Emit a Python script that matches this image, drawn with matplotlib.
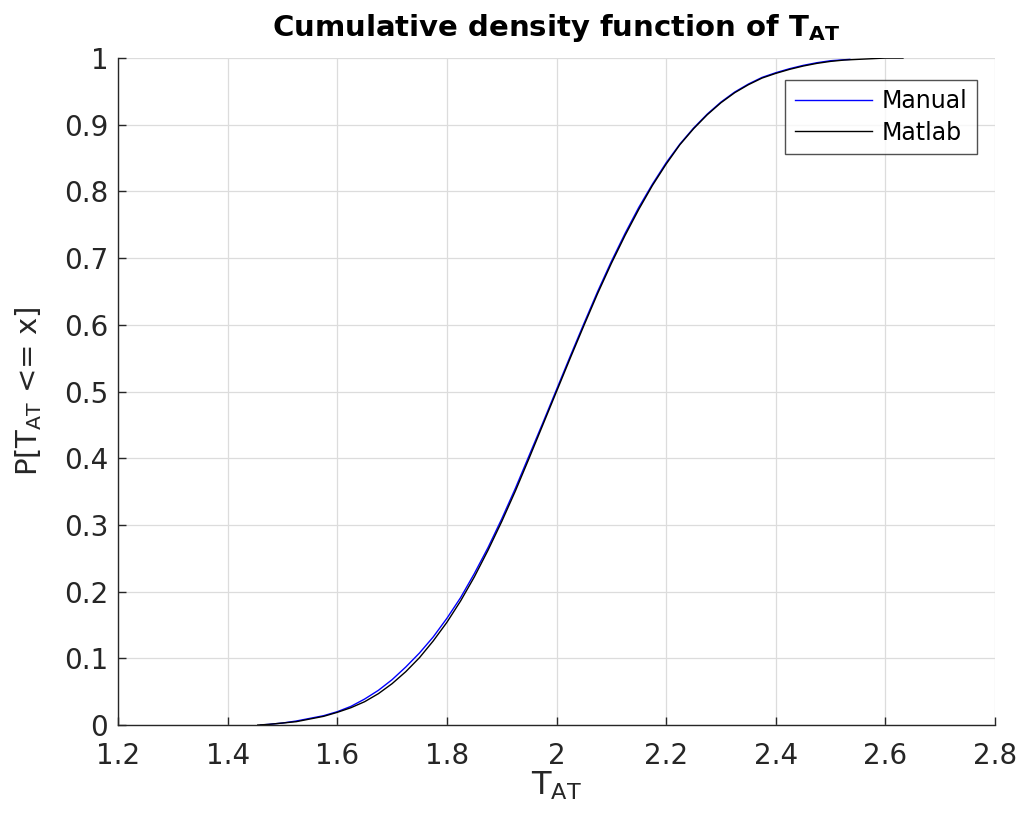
import matplotlib
matplotlib.use("Agg")
import matplotlib.pyplot as plt

plt.rcParams['mathtext.fontset'] = 'dejavusans'

# Matlab (black) CDF
matlab_x = [1.455, 1.475, 1.5, 1.525, 1.55, 1.575, 1.6, 1.625, 1.65, 1.675, 1.7,
            1.725, 1.75, 1.775, 1.8, 1.825, 1.85, 1.875, 1.9, 1.925, 1.95, 1.975,
            2.0, 2.025, 2.05, 2.075, 2.1, 2.125, 2.15, 2.175, 2.2, 2.225, 2.25,
            2.275, 2.3, 2.325, 2.35, 2.375, 2.4, 2.425, 2.45, 2.475, 2.5, 2.525,
            2.55, 2.575, 2.6, 2.632]
matlab_y = [0.0, 0.001, 0.003, 0.005, 0.009, 0.013, 0.019, 0.026, 0.035, 0.047, 0.062,
            0.080, 0.101, 0.126, 0.154, 0.186, 0.222, 0.262, 0.305, 0.351, 0.400, 0.450,
            0.500, 0.550, 0.599, 0.647, 0.692, 0.734, 0.773, 0.809, 0.841, 0.870, 0.894,
            0.915, 0.933, 0.948, 0.960, 0.970, 0.977, 0.983, 0.988, 0.992, 0.995, 0.997,
            0.998, 0.999, 1.0, 1.0]

# Manual (blue) CDF
manual_x = [1.46, 1.475, 1.5, 1.525, 1.55, 1.575, 1.6, 1.625, 1.65, 1.675, 1.7,
            1.725, 1.75, 1.775, 1.8, 1.825, 1.85, 1.875, 1.9, 1.925, 1.95, 1.975,
            2.0, 2.025, 2.05, 2.075, 2.1, 2.125, 2.15, 2.175, 2.2, 2.225, 2.25,
            2.275, 2.3, 2.325, 2.35, 2.375, 2.4, 2.425, 2.45, 2.475, 2.5, 2.535]
manual_y = [0.0, 0.001, 0.003, 0.006, 0.010, 0.014, 0.020, 0.028, 0.039, 0.052, 0.068,
            0.087, 0.108, 0.132, 0.160, 0.191, 0.227, 0.266, 0.309, 0.355, 0.404, 0.453,
            0.503, 0.553, 0.602, 0.650, 0.695, 0.737, 0.776, 0.811, 0.843, 0.871, 0.895,
            0.916, 0.934, 0.949, 0.961, 0.971, 0.978, 0.984, 0.989, 0.993, 0.996, 0.998]

xticks = [1.2, 1.4, 1.6, 1.8, 2.0, 2.2, 2.4, 2.6, 2.8]
xlabels = ['1.2', '1.4', '1.6', '1.8', '2', '2.2', '2.4', '2.6', '2.8']
yticks = [0, 0.1, 0.2, 0.3, 0.4, 0.5, 0.6, 0.7, 0.8, 0.9, 1.0]
ylabels = ['0', '0.1', '0.2', '0.3', '0.4', '0.5', '0.6', '0.7', '0.8', '0.9', '1']

fig = plt.figure(figsize=(10.19, 8.14), dpi=100)
ax = fig.add_axes([0.1158, 0.1093, 0.8607, 0.8194])

ax.plot(manual_x, manual_y, color='blue', lw=1.0, label='Manual')
ax.plot(matlab_x, matlab_y, color='black', lw=1.0, label='Matlab')

ax.set_xlim(1.2, 2.8)
ax.set_ylim(0, 1)
ax.set_xticks(xticks)
ax.set_xticklabels(xlabels)
ax.set_yticks(yticks)
ax.set_yticklabels(ylabels)

ax.grid(True, color='#dcdcdc', lw=0.9)
ax.set_axisbelow(True)
for s in ['top', 'right']:
    ax.spines[s].set_visible(False)
for s in ['left', 'bottom']:
    ax.spines[s].set_color('#262626')
    ax.spines[s].set_linewidth(1.0)
ax.tick_params(direction='in', length=6, width=1.0, colors='#262626', labelsize=20)
ax.tick_params(axis='x', pad=12)
ax.tick_params(axis='y', pad=7)

ax.set_xlabel(r'$\mathregular{T_{AT}}$', fontsize=23, color='#262626', labelpad=0)
ax.set_ylabel(r'P[$\mathregular{T_{AT}}$ <= x]', fontsize=21, color='#262626', labelpad=14)
ax.set_title(r'Cumulative density function of $\mathbf{T_{AT}}$', fontsize=21,
             fontweight='bold', pad=16)

leg = ax.legend(loc='upper right', bbox_to_anchor=(0.9795, 0.967), borderaxespad=0,
                fontsize=17, frameon=True, fancybox=False, handlelength=3.3,
                handletextpad=0.4, borderpad=0.4, labelspacing=0.3)
leg.get_frame().set_edgecolor('#262626')
leg.get_frame().set_linewidth(1.0)

fig.savefig('out.png', dpi=100)
